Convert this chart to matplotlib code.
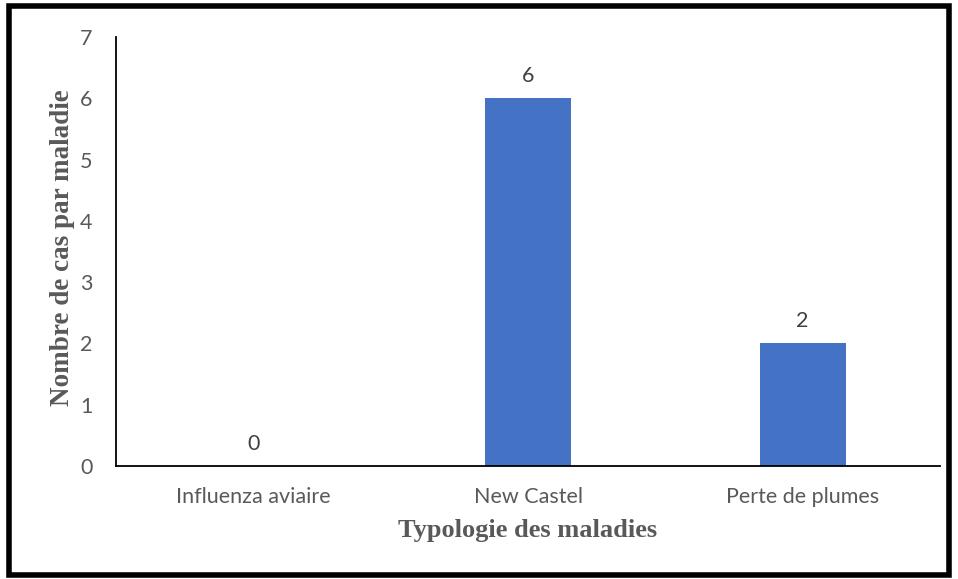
import matplotlib.pyplot as plt
from matplotlib.patches import Rectangle

categories = ['Influenza aviaire', 'New Castel', 'Perte de plumes']
cases = [0, 6, 2]
yticks = [0, 1, 2, 3, 4, 5, 6, 7]

plt.rcParams['font.family'] = ['Lato', 'DejaVu Sans']

fig = plt.figure(figsize=(9.58, 5.79), dpi=100)
ax = fig.add_axes([116/958, 1-466/579, (940-116)/958, (466-37)/579])

x = range(len(categories))
bars = ax.bar(x, cases, width=0.313, color='#4472C4', zorder=2)
for xi, v in zip(x, cases):
    ax.annotate(str(v), (xi, v), xytext=(0, 9), textcoords='offset points',
                ha='center', va='bottom', fontsize=15.5, color='#404040')

ax.set_xlim(-0.5, 2.5)
ax.set_ylim(0, 7)
ax.set_yticks(yticks)
ax.set_xticks(list(x))
ax.set_xticklabels(categories)
ax.tick_params(axis='both', length=0, labelsize=15.5, labelcolor='#595959')
ax.tick_params(axis='y', pad=17)
ax.tick_params(axis='x', pad=15)

for s in ['top', 'right']:
    ax.spines[s].set_visible(False)
ax.spines['left'].set_linewidth(1.3)
ax.spines['bottom'].set_linewidth(1.3)

ax.set_xlabel('Typologie des maladies', family='Liberation Serif', fontweight='bold',
              fontsize=19, color='#595959', labelpad=9)
ax.set_ylabel('Nombre de cas par maladie', family='Liberation Serif', fontweight='bold',
              fontsize=19.5, color='#595959')
ax.yaxis.set_label_coords(-0.05, 0.51)

fig.patches.append(Rectangle((9/958, 4/579), 940/958, 569/579, transform=fig.transFigure,
                             fill=False, edgecolor='black', linewidth=4))

fig.savefig('out.png', dpi=100)
